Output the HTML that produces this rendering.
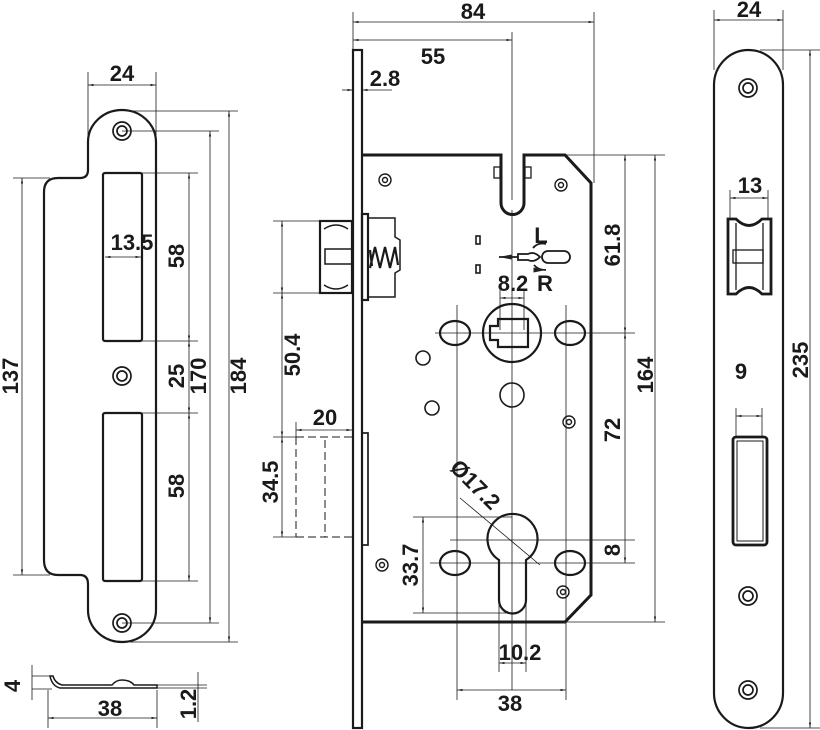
<!DOCTYPE html>
<html><head><meta charset="utf-8"><style>
html,body{margin:0;padding:0;background:#fff}
svg{display:block}
text{font-family:"Liberation Sans",sans-serif;font-weight:bold;font-size:22px;fill:#1a1a1a}
</style></head><body>
<svg width="820" height="730" viewBox="0 0 820 730" xmlns="http://www.w3.org/2000/svg">
<defs>
<marker id="a" viewBox="0 0 10 10" refX="10" refY="5" markerWidth="7" markerHeight="7" orient="auto-start-reverse"><path d="M0,3 L10,5 L0,7 z" fill="#222"/></marker>
</defs>
<g fill="none" stroke="#1a1a1a">
<path stroke-width="2.2" d="M88,142 A34,32 0 0 1 156,142 L156,610 A34,32 0 0 1 88,610 L88,584 Q88,575 80,575 L58,575 Q44,575 44,560 L44,192 Q44,178 58,178 L80,178 Q88,178 88,170 Z"/>
<g stroke-width="1.7"><circle cx="122" cy="131" r="9"/><circle cx="122" cy="131" r="5"/>
<circle cx="122" cy="376" r="9"/><circle cx="122" cy="376" r="5"/>
<circle cx="122" cy="623" r="9"/><circle cx="122" cy="623" r="5"/></g>
<rect x="103" y="173" width="39" height="168" rx="2" stroke-width="2.2"/>
<rect x="103" y="413" width="39" height="168" rx="2" stroke-width="2.2"/>
<g stroke-width="0.8">
<line x1="88" y1="72" x2="88" y2="140"/><line x1="156" y1="72" x2="156" y2="140"/>
<line x1="88" y1="85" x2="156" y2="85" marker-start="url(#a)" marker-end="url(#a)"/>
<line x1="105" y1="257" x2="141" y2="257" marker-start="url(#a)" marker-end="url(#a)"/>
<line x1="142" y1="173" x2="198" y2="173"/><line x1="142" y1="341" x2="198" y2="341"/>
<line x1="142" y1="413" x2="198" y2="413"/><line x1="142" y1="581" x2="198" y2="581"/>
<line x1="189" y1="173" x2="189" y2="341" marker-start="url(#a)" marker-end="url(#a)"/>
<line x1="189" y1="341" x2="189" y2="413" marker-start="url(#a)" marker-end="url(#a)"/>
<line x1="189" y1="413" x2="189" y2="581" marker-start="url(#a)" marker-end="url(#a)"/>
<line x1="122" y1="131" x2="219" y2="131"/><line x1="122" y1="623" x2="219" y2="623"/>
<line x1="210" y1="131" x2="210" y2="623" marker-start="url(#a)" marker-end="url(#a)"/>
<line x1="130" y1="111" x2="238" y2="111"/><line x1="130" y1="642" x2="238" y2="642"/>
<line x1="229" y1="111" x2="229" y2="642" marker-start="url(#a)" marker-end="url(#a)"/>
<line x1="13" y1="178" x2="50" y2="178"/><line x1="13" y1="575" x2="50" y2="575"/>
<line x1="22" y1="178" x2="22" y2="575" marker-start="url(#a)" marker-end="url(#a)"/>
</g>
<path stroke-width="1.5" d="M50,676 Q52,686 60,688 L157,688 L157,685 L134,685 Q130,680 122,680 Q116,680 112,685 L62,685 Q55,683 53,676 Z"/>
<g stroke-width="0.8">
<line x1="32" y1="676" x2="52" y2="676"/><line x1="32" y1="689" x2="52" y2="689"/>
<line x1="32" y1="665" x2="32" y2="700"/>
<line x1="48" y1="690" x2="48" y2="728"/><line x1="157" y1="690" x2="157" y2="728"/>
<line x1="48" y1="718" x2="157" y2="718" marker-start="url(#a)" marker-end="url(#a)"/>
<line x1="157" y1="685" x2="207" y2="685"/><line x1="157" y1="688" x2="207" y2="688"/>
<line x1="198" y1="672" x2="198" y2="722"/>
</g>
<rect x="353" y="50" width="9" height="678" stroke-width="2.2"/>
<path stroke-width="3" d="M362,155 L501,155 L501,203 A11.5,11.5 0 0 0 524,203 L524,155 L565,155 L591,183 L591,595 L565,622 L362,622"/>
<rect x="494" y="167" width="6" height="11" stroke-width="1.3"/><rect x="525" y="167" width="6" height="11" stroke-width="1.3"/>
<rect x="320" y="221" width="32" height="72" stroke-width="2.2"/>
<rect x="325" y="249" width="27" height="15" stroke-width="1.5"/>
<path stroke-width="1.5" d="M324,229 Q336,221 348,229 M324,285 Q336,293 348,285"/>
<rect x="362" y="214" width="6" height="86" stroke-width="2.2"/>
<path stroke-width="1.5" d="M368,218 L395,218 L395,237 L400,240 L400,270 L395,273 L395,297 L368,297"/>
<path stroke-width="2.2" d="M370,268 L375,247 L380,268 L385,247 L390,268 L395,247 L398,265 M370,250 L372,266"/>
<rect x="362" y="433" width="6" height="112" stroke-width="1.7"/>
<g stroke-width="1" stroke-dasharray="8,4">
<line x1="296" y1="437" x2="352" y2="437"/><line x1="296" y1="537" x2="352" y2="537"/>
<line x1="325" y1="440" x2="325" y2="537"/><line x1="296" y1="437" x2="296" y2="537"/>
</g>
<g stroke-width="0.8">
<line x1="273" y1="221" x2="320" y2="221"/><line x1="273" y1="293" x2="320" y2="293"/>
<line x1="282" y1="221" x2="282" y2="293" marker-start="url(#a)" marker-end="url(#a)"/>
<line x1="282" y1="293" x2="282" y2="437" marker-start="url(#a)" marker-end="url(#a)"/>
<line x1="273" y1="437" x2="296" y2="437"/><line x1="273" y1="537" x2="296" y2="537"/>
<line x1="282" y1="437" x2="282" y2="537" marker-start="url(#a)" marker-end="url(#a)"/>
<line x1="296" y1="430" x2="352" y2="430" marker-start="url(#a)" marker-end="url(#a)"/>
<line x1="296" y1="422" x2="296" y2="437"/>
<line x1="353" y1="22" x2="594" y2="22" marker-start="url(#a)" marker-end="url(#a)"/>
<line x1="353" y1="12" x2="353" y2="50"/><line x1="594" y1="12" x2="594" y2="183"/>
<line x1="353" y1="40" x2="512" y2="40" marker-start="url(#a)" marker-end="url(#a)"/>
<line x1="512" y1="32" x2="512" y2="200"/>
<line x1="342" y1="90" x2="353" y2="90" marker-end="url(#a)"/><line x1="362" y1="90" x2="392" y2="90" marker-start="url(#a)"/>
<line x1="512" y1="210" x2="512" y2="690"/>
<line x1="435" y1="333" x2="635" y2="333"/>
<line x1="457" y1="305" x2="457" y2="700"/><line x1="566" y1="305" x2="566" y2="700"/>
<line x1="500" y1="290" x2="500" y2="330"/><line x1="524" y1="290" x2="524" y2="330"/>
<line x1="500" y1="298" x2="524" y2="298" marker-start="url(#a)" marker-end="url(#a)"/>
<line x1="565" y1="155" x2="665" y2="155"/><line x1="565" y1="622" x2="665" y2="622"/>
<line x1="625" y1="155" x2="625" y2="333" marker-start="url(#a)" marker-end="url(#a)"/>
<line x1="625" y1="333" x2="625" y2="563" marker-start="url(#a)" marker-end="url(#a)"/>
<line x1="655" y1="155" x2="655" y2="622" marker-start="url(#a)" marker-end="url(#a)"/>
<line x1="450" y1="540" x2="635" y2="540"/><line x1="430" y1="563" x2="635" y2="563"/>
<line x1="413" y1="517" x2="512" y2="517"/><line x1="413" y1="613" x2="512" y2="613"/>
<line x1="423" y1="517" x2="423" y2="613" marker-start="url(#a)" marker-end="url(#a)"/>
<line x1="499" y1="600" x2="499" y2="672"/><line x1="526" y1="600" x2="526" y2="672"/>
<line x1="499" y1="663" x2="526" y2="663" marker-start="url(#a)" marker-end="url(#a)"/>
<line x1="457" y1="690" x2="566" y2="690" marker-start="url(#a)" marker-end="url(#a)"/>
<line x1="460" y1="498" x2="540" y2="565"/>
</g>
<circle cx="512" cy="333" r="29" stroke-width="2.2"/>
<path stroke-width="2.2" d="M498,319 L528,319 L528,347 L498,347 L498,340 L490,340 L490,326 L498,326 Z"/>
<ellipse cx="455" cy="333" rx="15" ry="12" stroke-width="2.2"/><ellipse cx="570" cy="333" rx="15" ry="12" stroke-width="2.2"/>
<ellipse cx="455" cy="563" rx="15" ry="12" stroke-width="2.2"/><ellipse cx="570" cy="563" rx="15" ry="12" stroke-width="2.2"/>
<g stroke-width="1.6"><circle cx="423" cy="358" r="7"/><circle cx="432" cy="408" r="7"/><circle cx="512" cy="395" r="12"/></g>
<path stroke-width="2.2" d="M499,560 A25,25 0 1 1 526,560 L526,600 A13.5,13.5 0 0 1 499,600 Z"/>
<g stroke-width="1.4">
<circle cx="385" cy="180" r="6"/><circle cx="385" cy="180" r="2.5"/>
<circle cx="561" cy="185" r="6"/><circle cx="561" cy="185" r="2.5"/>
<circle cx="569" cy="422" r="6"/><circle cx="569" cy="422" r="2.5"/>
<circle cx="382" cy="565" r="6"/><circle cx="382" cy="565" r="2.5"/>
<circle cx="563" cy="592" r="6"/><circle cx="563" cy="592" r="2.5"/>
</g>
<rect x="476" y="236" width="4" height="8" stroke-width="1.6"/><rect x="476" y="265" width="4" height="8" stroke-width="1.6"/>
<g stroke-width="1.8">
<line x1="499" y1="257" x2="518" y2="257" marker-start="url(#a)"/>
<path d="M518,254 L528,254 Q534,251 540,257 Q534,263 528,260 L518,260 Z"/>
<rect x="542" y="251" width="28" height="12" rx="6"/>
<path d="M533,248 Q538,242 546,244 M534,265 Q538,270 546,270" marker-end="url(#a)"/>
</g>
<path stroke-width="2.2" d="M714,85 A34.5,35 0 0 1 783,85 L783,693 A34.5,35 0 0 1 714,693 Z"/>
<g stroke-width="1.7"><circle cx="748" cy="88" r="9"/><circle cx="748" cy="88" r="5"/>
<circle cx="748" cy="596" r="9"/><circle cx="748" cy="596" r="5"/>
<circle cx="748" cy="690" r="9"/><circle cx="748" cy="690" r="5"/></g>
<path stroke-width="2.8" d="M728,219 L736,219 Q749,232 762,219 L771,219 L771,294 L762,294 Q749,281 736,294 L728,294 Z"/>
<line x1="736" y1="223" x2="736" y2="290" stroke-width="1.3"/><line x1="763" y1="223" x2="763" y2="290" stroke-width="1.3"/>
<rect x="733" y="250" width="30" height="13" stroke-width="1.3"/>
<rect x="733" y="437" width="34" height="108" rx="3" stroke-width="2.8"/>
<rect x="737" y="441" width="26" height="100" stroke-width="1"/>
<g stroke-width="0.8">
<line x1="714" y1="10" x2="714" y2="70"/><line x1="783" y1="10" x2="783" y2="70"/>
<line x1="714" y1="20" x2="783" y2="20" marker-start="url(#a)" marker-end="url(#a)"/>
<line x1="730" y1="190" x2="730" y2="219"/><line x1="768" y1="190" x2="768" y2="219"/>
<line x1="730" y1="198" x2="768" y2="198" marker-start="url(#a)" marker-end="url(#a)"/>
<line x1="736" y1="408" x2="736" y2="437"/><line x1="762" y1="408" x2="762" y2="437"/>
<line x1="736" y1="416" x2="762" y2="416" marker-start="url(#a)" marker-end="url(#a)"/>
<line x1="760" y1="50" x2="820" y2="50"/><line x1="760" y1="728" x2="820" y2="728"/>
<line x1="810" y1="50" x2="810" y2="728" marker-start="url(#a)" marker-end="url(#a)"/>
</g>
</g>
<text x="122" y="81" text-anchor="middle">24</text>
<text x="132" y="250" text-anchor="middle">13.5</text>
<text transform="translate(184,256) rotate(-90)" text-anchor="middle">58</text>
<text transform="translate(184,376) rotate(-90)" text-anchor="middle">25</text>
<text transform="translate(184,486) rotate(-90)" text-anchor="middle">58</text>
<text transform="translate(206,376) rotate(-90)" text-anchor="middle">170</text>
<text transform="translate(246,376) rotate(-90)" text-anchor="middle">184</text>
<text transform="translate(18,376) rotate(-90)" text-anchor="middle">137</text>
<text transform="translate(20,686) rotate(-90)" text-anchor="middle">4</text>
<text x="110" y="716" text-anchor="middle">38</text>
<text transform="translate(196,704) rotate(-90)" text-anchor="middle">1.2</text>
<text x="473" y="19" text-anchor="middle">84</text>
<text x="433" y="64" text-anchor="middle">55</text>
<text x="385" y="86" text-anchor="middle">2.8</text>
<text transform="translate(300,355) rotate(-90)" text-anchor="middle">50.4</text>
<text x="325" y="425" text-anchor="middle">20</text>
<text transform="translate(278,482) rotate(-90)" text-anchor="middle">34.5</text>
<text x="541" y="243" text-anchor="middle">L</text>
<text x="513" y="291" text-anchor="middle">8.2</text>
<text x="545" y="291" text-anchor="middle">R</text>
<text transform="translate(620,245) rotate(-90)" text-anchor="middle">61.8</text>
<text transform="translate(653,375) rotate(-90)" text-anchor="middle">164</text>
<text transform="translate(620,430) rotate(-90)" text-anchor="middle">72</text>
<text transform="translate(620,550) rotate(-90)" text-anchor="middle">8</text>
<text transform="translate(470,490) rotate(45)" text-anchor="middle">Ø17.2</text>
<text transform="translate(418,565) rotate(-90)" text-anchor="middle">33.7</text>
<text x="520" y="660" text-anchor="middle">10.2</text>
<text x="510" y="711" text-anchor="middle">38</text>
<text x="749" y="17" text-anchor="middle">24</text>
<text x="750" y="193" text-anchor="middle">13</text>
<text x="741" y="379" text-anchor="middle">9</text>
<text transform="translate(808,360) rotate(-90)" text-anchor="middle">235</text>
</svg>
</body></html>
